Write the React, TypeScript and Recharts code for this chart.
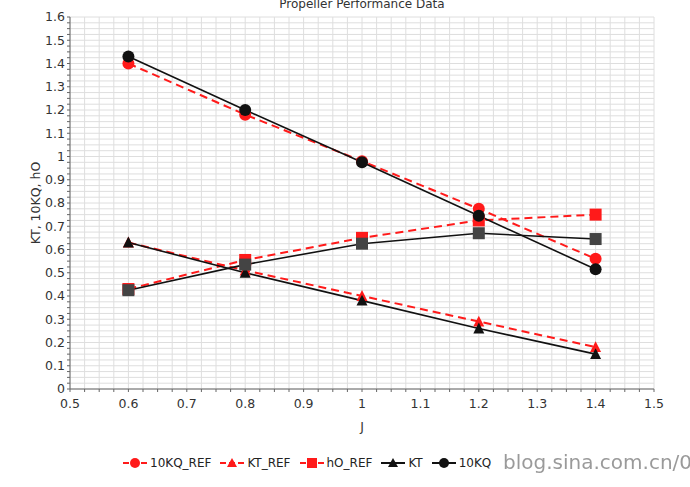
import React from "react";
import { LineChart, Line, XAxis, YAxis, CartesianGrid, Customized } from "recharts";

const J = [0.6, 0.8, 1.0, 1.2, 1.4];
const kq10Ref = [1.40, 1.18, 0.98, 0.775, 0.56];
const ktRef = [0.63, 0.51, 0.40, 0.29, 0.18];
const h0Ref = [0.43, 0.555, 0.65, 0.725, 0.75];
const kt = [0.63, 0.50, 0.38, 0.26, 0.15];
const kq10 = [1.43, 1.20, 0.975, 0.745, 0.515];
const h0 = [0.425, 0.535, 0.625, 0.67, 0.645];

const xTicks = Array.from({ length: 41 }, (_, i) => Math.round((0.5 + i * 0.025) * 1000) / 1000);
const yTicks = Array.from({ length: 65 }, (_, i) => Math.round(i * 0.025 * 1000) / 1000);

const data = J.map((j, i) => ({
  J: j,
  kq10Ref: kq10Ref[i],
  ktRef: ktRef[i],
  h0Ref: h0Ref[i],
  kt: kt[i],
  kq10: kq10[i],
  h0: h0[i],
}));

const RED = "#ff1a1a";
const BLACK = "#111";
const GRAY = "#444";
const FONT = "DejaVu Sans, sans-serif";

const majorFmt = (v: number) => {
  const r = Math.round(v * 10) / 10;
  return Math.abs(r - v) < 1e-6 ? String(r) : "";
};

const Circle = (color: string, r = 6) => (props: any) => {
  const { cx, cy } = props;
  if (cx == null || cy == null) return null;
  return <circle key={`${cx}-${cy}`} cx={cx} cy={cy} r={r} fill={color} stroke="none" />;
};
const Square = (color: string, s = 12) => (props: any) => {
  const { cx, cy } = props;
  if (cx == null || cy == null) return null;
  return <rect key={`${cx}-${cy}`} x={cx - s / 2} y={cy - s / 2} width={s} height={s} fill={color} />;
};
const Tri = (color: string, s = 11) => (props: any) => {
  const { cx, cy } = props;
  if (cx == null || cy == null) return null;
  const h = s * 0.9;
  return (
    <polygon
      key={`${cx}-${cy}`}
      points={`${cx},${cy - h / 2 - 1} ${cx - s / 2},${cy + h / 2} ${cx + s / 2},${cy + h / 2}`}
      fill={color}
    />
  );
};

const legendItems = [
  { label: "10KQ_REF", color: RED, shape: "circle", dashed: true },
  { label: "KT_REF", color: RED, shape: "tri", dashed: true },
  { label: "hO_REF", color: RED, shape: "square", dashed: true },
  { label: "KT", color: BLACK, shape: "tri", dashed: false },
  { label: "10KQ", color: BLACK, shape: "circle", dashed: false },
];

const LegendBox = () => (
  <div style={{ position: "absolute", left: 122, top: 456, display: "flex", fontFamily: FONT, fontSize: 12, color: "#222", alignItems: "center" }}>
    {legendItems.map((it) => (
      <div key={it.label} style={{ display: "flex", alignItems: "center", marginRight: 8 }}>
        <svg width={26} height={14}>
          <line x1={1} y1={7} x2={25} y2={7} stroke={it.color} strokeWidth={2} strokeDasharray={it.dashed ? "6 3" : undefined} />
          {it.shape === "circle" && <circle cx={13} cy={7} r={5} fill={it.color} />}
          {it.shape === "square" && <rect x={8} y={2} width={10} height={10} fill={it.color} />}
          {it.shape === "tri" && <polygon points="13,2 8,11 18,11" fill={it.color} />}
        </svg>
        <span style={{ marginLeft: 2 }}>{it.label}</span>
      </div>
    ))}
  </div>
);

const Title = () => (
  <text x={362} y={8} textAnchor="middle" fontFamily={FONT} fontSize={12} fill="#333">
    Propeller Performance Data
  </text>
);

export default function App() {
  return (
    <div style={{ position: "fixed", left: 0, top: 0, width: 690, height: 487, background: "#fff" }}>
      <LineChart width={690} height={487} data={data} margin={{ top: 17, right: 36, left: 0, bottom: 70 }}>
        <CartesianGrid stroke="#dedede" strokeWidth={1} />
        <XAxis
          dataKey="J"
          type="number"
          domain={[0.5, 1.5]}
          ticks={xTicks}
          interval={0}
          tickFormatter={majorFmt}
          stroke="#666"
          tick={{ fill: "#333", fontSize: 12.5, fontFamily: FONT, dy: 5 }}
          tickSize={3}
          height={28}
          label={{ value: "J", position: "insideBottom", offset: -14, fill: "#333", fontSize: 12.5, fontFamily: FONT }}
        />
        <YAxis
          type="number"
          domain={[0, 1.6]}
          ticks={yTicks}
          interval={0}
          tickFormatter={majorFmt}
          stroke="#666"
          tick={{ fill: "#333", fontSize: 12.5, fontFamily: FONT }}
          tickSize={3}
          width={70}
          label={{ value: "KT, 10KQ, hO", angle: -90, position: "insideLeft", offset: 36, fill: "#333", fontSize: 12.5, fontFamily: FONT, style: { textAnchor: "middle" } }}
        />
        <Line dataKey="kq10Ref" name="10KQ_REF" stroke={RED} strokeWidth={2} strokeDasharray="8 5" dot={Circle(RED)} isAnimationActive={false} />
        <Line dataKey="ktRef" name="KT_REF" stroke={RED} strokeWidth={2} strokeDasharray="8 5" dot={Tri(RED)} isAnimationActive={false} />
        <Line dataKey="h0Ref" name="hO_REF" stroke={RED} strokeWidth={2} strokeDasharray="8 5" dot={Square(RED)} isAnimationActive={false} />
        <Line dataKey="kt" name="KT" stroke={BLACK} strokeWidth={1.6} dot={Tri(BLACK)} isAnimationActive={false} />
        <Line dataKey="h0" name="hO" stroke={BLACK} strokeWidth={1.6} dot={Square(GRAY)} isAnimationActive={false} />
        <Line dataKey="kq10" name="10KQ" stroke={BLACK} strokeWidth={1.6} dot={Circle(BLACK)} isAnimationActive={false} />
        <Customized component={Title} />
      </LineChart>
      <LegendBox />
      <div style={{ position: "absolute", left: 503, top: 450, fontFamily: FONT, fontSize: 20, color: "rgba(120,120,120,0.75)" }}>
        blog.sina.com.cn/0
      </div>
    </div>
  );
}
